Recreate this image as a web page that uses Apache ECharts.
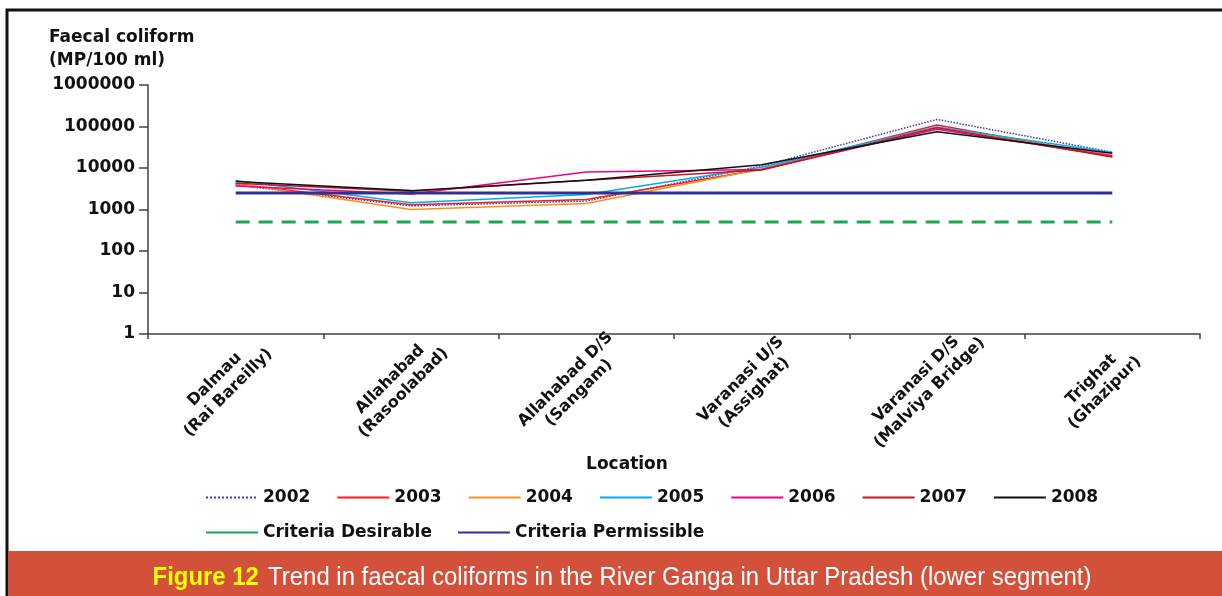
<!DOCTYPE html>
<html>
<head>
<meta charset="utf-8">
<script src="https://cdn.jsdelivr.net/npm/echarts@6/dist/echarts.min.js"></script>
<style>
  html, body { margin: 0; padding: 0; background: #fff; }
  #chart { width: 1222px; height: 596px; }
</style>
</head>
<body>
<div id="chart"></div>
<script>
var locations = ['Dalmau\n(Rai Bareilly)', 'Allahabad\n(Rasoolabad)', 'Allahabad D/S\n(Sangam)',
                 'Varanasi U/S\n(Assighat)', 'Varanasi D/S\n(Malviya Bridge)', 'Trighat\n(Ghazipur)'];
var y2002 = [3900, 1220, 1600, 11200, 148000, 24000];
var y2003 = [4100, 1300, 1750, 9300, 109000, 19000];
var y2004 = [4250, 1000, 1400, 9500, 91000, 20500];
var y2005 = [5000, 1450, 2300, 10400, 97000, 23500];
var y2006 = [3700, 2350, 8000, 9200, 86000, 19500];
var y2007 = [4300, 2750, 5100, 9000, 94000, 18500];
var y2008 = [4700, 2850, 5100, 12000, 75000, 22600];
var desirable = [500, 500, 500, 500, 500, 500];
var permissible = [2500, 2500, 2500, 2500, 2500, 2500];
var yTickLabels = ['1', '10', '100', '1000', '10000', '100000', '1000000'];

var font = 'DejaVu Sans';

function yearLine(name, data, color, type) {
    return {
        name: name, type: 'line', data: data, symbol: 'none',
        lineStyle: { color: color, width: 1.5, type: type || 'solid' },
        itemStyle: { color: color },
        emphasis: { disabled: true }
    };
}

var legendText = { fontFamily: font, fontSize: 17, fontWeight: 'bold', color: '#111' };

var chart = echarts.init(document.getElementById('chart'));
var option = {
    animation: false,
    title: {
        text: 'Faecal coliform\n(MP/100 ml)',
        left: 44, top: 21,
        textStyle: { fontFamily: font, fontSize: 17, fontWeight: 'bold', color: '#111', lineHeight: 23 }
    },
    grid: { left: 148, right: 22, top: 85, bottom: 262, outerBoundsMode: 'none' },
    legend: [{
        left: 205, top: 489, padding: 0,
        itemWidth: 52, itemHeight: 14, itemGap: 26,
        itemStyle: { opacity: 0 },
        data: ['2002', '2003', '2004', '2005', '2006', '2007', '2008'],
        textStyle: legendText
    }, {
        left: 205, top: 524, padding: 0,
        itemWidth: 52, itemHeight: 14, itemGap: 25,
        itemStyle: { opacity: 0 },
        data: [
            { name: 'Criteria Desirable', lineStyle: { type: 'solid' } },
            { name: 'Criteria Permissible' }
        ],
        textStyle: legendText
    }],
    xAxis: {
        type: 'category',
        data: locations,
        boundaryGap: true,
        axisLine: { lineStyle: { color: '#404040', width: 1.5 } },
        axisTick: { show: true, length: 5, lineStyle: { color: '#404040', width: 1.5 } },
        axisLabel: {
            interval: 0, rotate: 45, align: 'center', verticalAlign: 'middle',
            margin: 38, padding: [0, 40, 0, 0],
            fontFamily: font, fontSize: 16, fontWeight: 'bold', color: '#111', lineHeight: 19
        }
    },
    yAxis: {
        type: 'log', logBase: 10, min: 1, max: 1000000, splitNumber: 6,
        axisLine: { show: true, lineStyle: { color: '#404040', width: 1.5 } },
        axisTick: { show: true, length: 9, lineStyle: { color: '#404040', width: 1.5 } },
        splitLine: { show: false },
        axisLabel: {
            margin: 13,
            fontFamily: font, fontSize: 17, fontWeight: 'bold', color: '#111',
            formatter: function (v) { return yTickLabels[Math.round(Math.log10(v))]; }
        }
    },
    graphic: [
        { type: 'rect', silent: true, z: -1,
          shape: { x: 7, y: 10, width: 1240, height: 620 },
          style: { fill: 'none', stroke: '#111', lineWidth: 3 } },
        { type: 'rect', silent: true,
          shape: { x: 8, y: 551, width: 1222, height: 50 },
          style: { fill: '#d3513a' } },
        { type: 'text', silent: true, x: 627, y: 465,
          style: { text: 'Location', fontFamily: font, fontSize: 17, fontWeight: 'bold', fill: '#111',
                   align: 'center', verticalAlign: 'middle' } },
        { type: 'text', silent: true, x: 622, y: 578, scaleX: 0.92,
          style: {
              text: '{f|Figure 12}   {t|Trend in faecal coliforms in the River Ganga in Uttar Pradesh (lower segment)}',
              align: 'center', verticalAlign: 'middle',
              rich: {
                  f: { fontFamily: 'Liberation Sans', fontSize: 26, fontWeight: 'bold', fill: '#ffff00', color: '#ffff00' },
                  t: { fontFamily: 'Liberation Sans', fontSize: 26, fill: '#ffffff', color: '#ffffff' }
              }
          } }
    ],
    series: [
        yearLine('2002', y2002, '#3a3aa8', 'dotted'),
        yearLine('2003', y2003, '#ff1a1a'),
        yearLine('2004', y2004, '#f7901e'),
        yearLine('2005', y2005, '#00aeef'),
        yearLine('2006', y2006, '#ec008c'),
        yearLine('2007', y2007, '#c4161c'),
        yearLine('2008', y2008, '#111111'),
        {
            name: 'Criteria Desirable', type: 'line', data: desirable, symbol: 'none',
            lineStyle: { color: '#1aa655', width: 3, type: [14, 9] },
            itemStyle: { color: '#1aa655' }, emphasis: { disabled: true }
        },
        {
            name: 'Criteria Permissible', type: 'line', data: permissible, symbol: 'none',
            lineStyle: { color: '#2e3192', width: 3 },
            itemStyle: { color: '#2e3192' }, emphasis: { disabled: true }
        }
    ]
};
chart.setOption(option);
</script>
</body>
</html>
